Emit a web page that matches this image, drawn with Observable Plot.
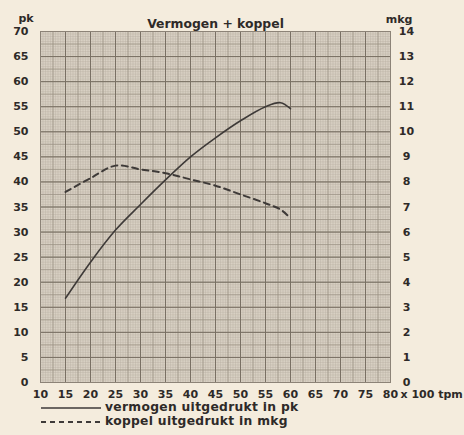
<!DOCTYPE html>
<html>
<head>
<meta charset="utf-8">
<script src="https://cdn.jsdelivr.net/npm/d3@7"></script>
<script src="https://cdn.jsdelivr.net/npm/@observablehq/plot@0.6"></script>
<style>
  html, body { margin: 0; padding: 0; background: #f4ecdd; overflow: hidden; }
  body { width: 464px; height: 435px; font-family: "DejaVu Sans", sans-serif; font-weight: 700; color: #2e2a28; }
  #chart svg { display: block; }
  #chart svg text { font-family: "DejaVu Sans", sans-serif; font-weight: 700 !important; }
  #legend { position: relative; width: 464px; height: 35px; }
  .row { position: absolute; left: 0; width: 464px; height: 14px; }
  .row svg { position: absolute; left: 41px; top: 0; }
  .row span { position: absolute; left: 105px; top: -1px; font-size: 12.3px; font-weight: 700; letter-spacing: 0.3px; line-height: 14px; white-space: nowrap; }
</style>
</head>
<body>
<div id="chart"></div>
<div id="legend">
  <div class="row" style="top:1px"><svg width="62" height="14"><line x1="0" y1="7" x2="60" y2="7" stroke="#3e3a38" stroke-width="1.6"/></svg><span>vermogen uitgedrukt in pk</span></div>
  <div class="row" style="top:15px"><svg width="62" height="14"><line x1="0" y1="7" x2="60" y2="7" stroke="#3e3a38" stroke-width="2" stroke-dasharray="5,4"/></svg><span>koppel uitgedrukt in mkg</span></div>
</div>
<script>
// data
const rpmPk = [15, 20, 25, 30, 35, 40, 45, 50, 55, 58, 60];
const pk    = [16.8, 24, 30.4, 35.5, 40.4, 45, 48.8, 52.2, 55, 55.8, 54.6];
const rpmKg = [15, 20, 25, 30, 35, 40, 45, 50, 55, 58, 60];
const mkg   = [7.6, 8.15, 8.65, 8.5, 8.35, 8.1, 7.85, 7.5, 7.15, 6.9, 6.55];
const xTicks = [10, 15, 20, 25, 30, 35, 40, 45, 50, 55, 60, 65, 70, 75, 80];
const pkTicks = [0, 5, 10, 15, 20, 25, 30, 35, 40, 45, 50, 55, 60, 65, 70];
const title = "Vermogen + koppel";

const pkData = rpmPk.map((r, i) => ({rpm: r, v: pk[i]}));
const kgData = rpmKg.map((r, i) => ({rpm: r, v: mkg[i] * 5})); // 14 mkg == 70 pk on the shared axis

const fine = d3.range(10, 80.001, 0.5);
const mid = d3.range(10, 80.001, 2.5);
const fineY = d3.range(0, 70.001, 0.5);
const midY = d3.range(0, 70.001, 2.5);
const ink = "#2e2a28";

const chart = Plot.plot({
  width: 464,
  height: 400,
  marginLeft: 40,
  marginRight: 74,
  marginTop: 31,
  marginBottom: 18,
  style: {fontFamily: "'DejaVu Sans', sans-serif", fontSize: "11px", color: ink, background: "transparent", overflow: "visible"},
  x: {domain: [10, 80]},
  y: {domain: [0, 70]},
  marks: [
    Plot.frame({fill: "#d8d0c3", stroke: null}),
    Plot.gridX(fine, {stroke: "#b9b0a3", strokeOpacity: 0.8, strokeWidth: 0.5}),
    Plot.gridY(fineY, {stroke: "#b9b0a3", strokeOpacity: 0.8, strokeWidth: 0.5}),
    Plot.gridX(mid, {stroke: "#9a9183", strokeOpacity: 1, strokeWidth: 0.7}),
    Plot.gridY(midY, {stroke: "#9a9183", strokeOpacity: 1, strokeWidth: 0.7}),
    Plot.gridX(xTicks, {stroke: "#797064", strokeOpacity: 1, strokeWidth: 1}),
    Plot.gridY(pkTicks, {stroke: "#797064", strokeOpacity: 1, strokeWidth: 1}),
    Plot.frame({stroke: "#8c8377", strokeWidth: 1}),
    Plot.axisX({ticks: xTicks, tickSize: 0, tickPadding: 8, label: null, fontWeight: "bold", fontSize: 11}),
    Plot.axisY({ticks: pkTicks, anchor: "left", tickSize: 0, tickPadding: 12, label: null, fontWeight: "bold", fontSize: 11}),
    Plot.axisY({ticks: pkTicks, anchor: "right", tickSize: 0, tickPadding: 16, textAnchor: "middle", dy: 0, tickFormat: d => d / 5, label: null, fontWeight: "bold", fontSize: 11}),
    Plot.line(pkData, {x: "rpm", y: "v", curve: "catmull-rom", stroke: "#3e3a38", strokeWidth: 1.6}),
    Plot.line(kgData, {x: "rpm", y: "v", curve: "catmull-rom", stroke: "#3e3a38", strokeWidth: 2, strokeDasharray: "6,4.5"}),
    Plot.text([title], {frameAnchor: "top", dy: -12, fontSize: 12.4, fontWeight: "bold", fill: ink}),
    Plot.text(["pk"], {frameAnchor: "top-left", dx: -22, dy: -17, fontSize: 11, fontWeight: "bold", fill: ink}),
    Plot.text(["mkg"], {frameAnchor: "top-right", dx: 22, dy: -16, fontSize: 11, fontWeight: "bold", fill: ink}),
    Plot.text(["x 100 tpm"], {frameAnchor: "bottom-right", textAnchor: "start", dx: 10, dy: 15, fontSize: 11, fontWeight: "bold", fill: ink})
  ]
});
document.getElementById("chart").appendChild(chart);
</script>
</body>
</html>
